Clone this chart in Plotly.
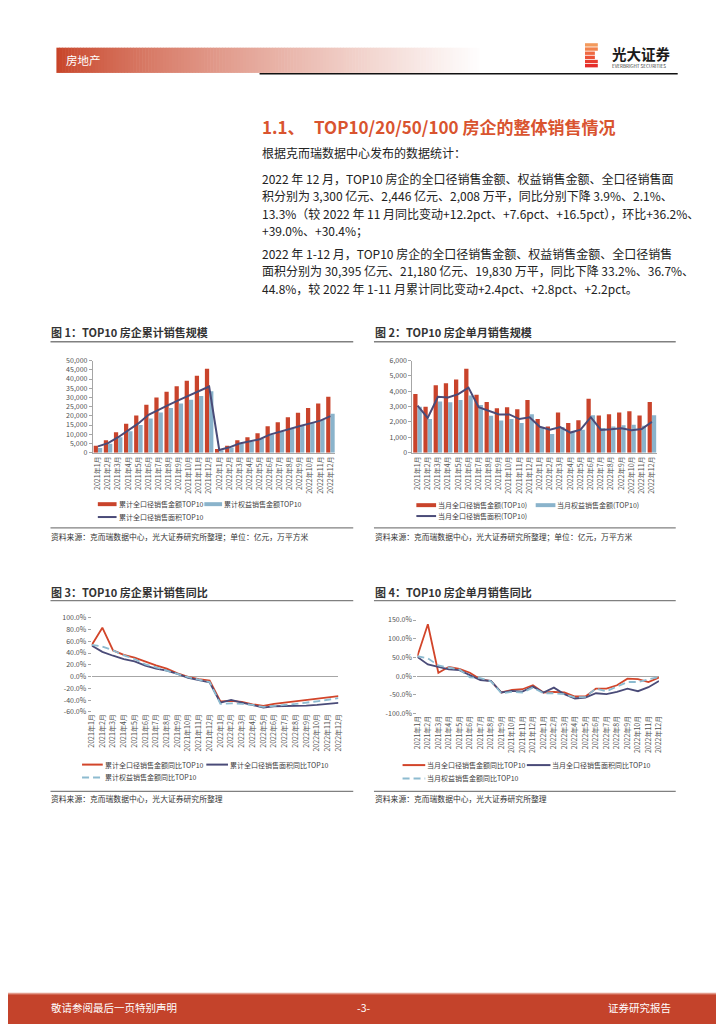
import plotly.graph_objects as go

W, H = 724, 1024
OFF = 8  # page body margin in the browser
FONT = "Noto Sans CJK SC, Noto Sans, sans-serif"

# ---------------- data ----------------
MONTHS = ["2021年1月", "2021年2月", "2021年3月", "2021年4月", "2021年5月", "2021年6月",
          "2021年7月", "2021年8月", "2021年9月", "2021年10月", "2021年11月", "2021年12月",
          "2022年1月", "2022年2月", "2022年3月", "2022年4月", "2022年5月", "2022年6月",
          "2022年7月", "2022年8月", "2022年9月", "2022年10月", "2022年11月", "2022年12月"]

# Fig 1: cumulative (亿元 / 万平方米)
CUM_GROSS = [3800, 6800, 11100, 15750, 20200, 26000, 29900, 33100, 36000, 39000, 41700, 45500,
             2000, 3700, 6800, 8400, 10600, 14300, 16500, 19200, 21700, 24300, 26700, 30395]
CUM_EQUITY = [2500, 4800, 8400, 11600, 15000, 18600, 21800, 24200, 26700, 28800, 30800, 33400,
              1300, 2750, 4800, 6100, 7700, 9800, 11500, 12900, 14700, 16300, 17700, 21180]
CUM_AREA = [3400, 5200, 8400, 12000, 15900, 20600, 23400, 26000, 28500, 31000, 33100, 35900,
            1500, 2900, 5000, 6300, 7300, 9800, 11500, 12900, 14500, 15900, 17400, 19830]

# Fig 2: monthly
MON_GROSS = [3815, 3000, 4400, 4520, 4760, 5460, 3770, 3300, 2890, 2960, 2830, 3430,
             2190, 1710, 2610, 1930, 2120, 3510, 2420, 2500, 2610, 2700, 2423, 3300]
MON_EQUITY = [3000, 2200, 3340, 3280, 3430, 3730, 3100, 2400, 2100, 2200, 1930, 2500,
              1630, 1220, 1670, 1350, 1500, 2440, 1610, 1710, 1780, 1820, 1760, 2446]
MON_AREA = [3060, 2270, 3640, 3600, 3810, 4240, 2960, 2720, 2490, 2490, 2190, 2310,
            1690, 1500, 1670, 1310, 1500, 2310, 1480, 1520, 1590, 1460, 1540, 2008]

# Fig 3: cumulative YoY (%)
YOY_CUM_GROSS = [53.3, 83.1, 44.4, 37.0, 32.0, 25.3, 19.1, 13.5, 5.6, -0.6, -4.5, -6.7,
                 -42.1, -41.5, -43.2, -47.2, -50.0, -46.6, -44.4, -42.7, -39.9, -37.6, -35.6, -33.2]
YOY_CUM_AREA = [52.8, 42.0, 35.4, 29.8, 25.8, 18.5, 13.5, 10.1, 4.5, -2.2, -6.2, -10.1,
                -44.4, -39.9, -44.4, -48.8, -52.8, -50.5, -50.5, -50.0, -49.4, -48.3, -47.0, -44.8]
YOY_CUM_EQUITY = [53.9, 51.1, 44.4, 36.0, 29.8, 20.8, 15.7, 10.7, 4.5, -1.1, -5.1, -9.5,
                  -46.6, -45.5, -46.6, -48.3, -51.6, -50.5, -48.3, -46.6, -44.9, -42.1, -39.5, -36.7]

# Fig 4: monthly YoY (%)
YOY_MON_GROSS = [53.0, 138.6, 8.8, 24.7, 19.4, 8.8, -8.8, -13.2, -44.0, -37.0, -35.3, -24.7,
                 -44.0, -42.4, -44.0, -54.7, -54.7, -33.6, -33.6, -24.7, -7.0, -8.0, -16.1, -3.9]
YOY_MON_AREA = [51.0, 31.0, 24.7, 17.7, 16.0, 3.5, -10.6, -13.2, -44.0, -39.7, -41.5, -28.3,
                -44.0, -31.0, -48.6, -60.0, -57.4, -46.0, -48.6, -42.4, -33.6, -40.6, -29.8, -13.3]
YOY_MON_EQUITY = [53.0, 47.7, 28.3, 23.0, 17.7, -3.5, -5.3, -14.0, -46.0, -42.4, -44.0, -31.0,
                  -46.0, -46.0, -48.6, -57.4, -55.6, -33.6, -40.6, -28.3, -16.0, -16.0, -9.7, -2.1]

Y1_TICKS = [0, 5000, 10000, 15000, 20000, 25000, 30000, 35000, 40000, 45000, 50000]
Y2_TICKS = [0, 1000, 2000, 3000, 4000, 5000, 6000]
Y3_TICKS = [-60, -40, -20, 0, 20, 40, 60, 80, 100]
Y4_TICKS = [-100, -50, 0, 50, 100, 150]

LEG1 = ["累计全口径销售金额TOP10", "累计权益销售金额TOP10", "累计全口径销售面积TOP10"]
LEG2 = ["当月全口径销售金额(TOP10)", "当月权益销售金额(TOP10)", "当月全口径销售面积(TOP10)"]
LEG3 = ["累计全口径销售金额同比TOP10", "累计全口径销售面积同比TOP10", "累计权益销售金额同比TOP10"]
LEG4 = ["当月全口径销售金额同比TOP10", "当月全口径销售面积同比TOP10", "当月权益销售金额同比TOP10"]

# ---------------- style ----------------
RED = "#C9432B"
BLUE = "#8AB3CB"
PURPLE = "#4A4B78"
LRED = "#D2452A"
LBLUE = "#8DBBD0"
AX = "#A6A6A6"
TK = "#505050"
DASH = "7px,4px"


def px(x):
    return (x - OFF) / W


def py(y):
    return 1 - (y - OFF) / H


annotations = []
shapes = []


def text(x, y, s, size, color="#222222", anchor="left", bold=False):
    if bold:
        s = f"<b>{s}</b>"
    annotations.append(dict(x=px(x), y=py(y), xref="paper", yref="paper", text=s,
                            showarrow=False, xanchor=anchor, yanchor="middle",
                            borderpad=0,
                            font=dict(family=FONT, size=size, color=color)))


def rect(x0, y0, x1, y1, color):
    shapes.append(dict(type="rect", xref="paper", yref="paper", x0=px(x0), x1=px(x1),
                       y0=py(y1), y1=py(y0), fillcolor=color, line=dict(width=0),
                       layer="above"))


def hline(x0, x1, y, color, width, dash="solid"):
    shapes.append(dict(type="line", xref="paper", yref="paper", x0=px(x0), x1=px(x1),
                       y0=py(y), y1=py(y), line=dict(color=color, width=width, dash=dash),
                       layer="above"))


# ---------------- header ----------------
x = 51.0
x_end = 480.0
while x < x_end:
    t = (x - 51.0) / (x_end - 51.0)
    t2 = t ** 0.8
    r = int(200 + (255 - 200) * t2)
    g = int(68 + (255 - 68) * t2)
    b = int(40 + (255 - 40) * t2)
    rect(x, 42, min(x + 3.6, x_end), 67.5, f"rgb({r},{g},{b})")
    x += 3
text(60, 54.5, "房地产", 11.5, "#FFFFFF")
hline(257, 681, 68.3, "#111111", 1.5)

# logo icon (stacked stripes)
stripe_cols = ["#F39A5C", "#F2834D", "#EF6A42", "#EC5237", "#E83D2F", "#E52C2A"]
stripe_w = [13, 13, 10, 10, 13, 13]
for i, (c, w) in enumerate(zip(stripe_cols, stripe_w)):
    y0 = 37.5 + i * 4.2
    rect(587, y0, 587 + w, y0 + 3.4, c)
text(613, 47.5, "光大证券", 14.5, "#1A1A1A", bold=True)
text(613, 60.5, "EVERBRIGHT SECURITIES", 4.6, "#333333")

# ---------------- body text ----------------
TITLE_COL = "#D9542F"
text(258, 122, "1.1、", 17, TITLE_COL, bold=True)
text(311, 122, "TOP10/20/50/100 房企的整体销售情况", 17, TITLE_COL, bold=True)
BODY = [
    (148, "根据克而瑞数据中心发布的数据统计："),
    (174, "2022 年 12 月，TOP10 房企的全口径销售金额、权益销售金额、全口径销售面"),
    (191.5, "积分别为 3,300 亿元、2,446 亿元、2,008 万平，同比分别下降 3.9%、2.1%、"),
    (209, "13.3%（较 2022 年 11 月同比变动+12.2pct、+7.6pct、+16.5pct），环比+36.2%、"),
    (226.5, "+39.0%、+30.4%；"),
    (250, "2022 年 1-12 月，TOP10 房企的全口径销售金额、权益销售金额、全口径销售"),
    (267.5, "面积分别为 30,395 亿元、21,180 亿元、19,830 万平，同比下降 33.2%、36.7%、"),
    (285, "44.8%，较 2022 年 1-11 月累计同比变动+2.4pct、+2.8pct、+2.2pct。"),
]
for yy, s in BODY:
    text(258, yy, s, 12, "#222222")

# ---------------- chart frames ----------------
LINE_GRAY = "#808080"
for (x0, x1) in [(45, 352), (373, 679)]:
    hline(x0, x1, 339, LINE_GRAY, 1.3)
    hline(x0, x1, 527, LINE_GRAY, 1.3)
    hline(x0, x1, 600.5, LINE_GRAY, 1.3)
    hline(x0, x1, 793, LINE_GRAY, 1.3)

text(45, 329, "图 1：TOP10 房企累计销售规模", 11, "#333333", bold=True)
text(373, 329, "图 2：TOP10 房企单月销售规模", 11, "#333333", bold=True)
text(45, 592, "图 3：TOP10 房企累计销售同比", 11, "#333333", bold=True)
text(373, 592, "图 4：TOP10 房企单月销售同比", 11, "#333333", bold=True)

SRC = "#333333"
text(45, 535.5, "资料来源：克而瑞数据中心，光大证券研究所整理；单位：亿元，万平方米", 7.8, SRC)
text(373, 535.5, "资料来源：克而瑞数据中心，光大证券研究所整理；单位：亿元，万平方米", 7.8, SRC)
text(45, 800.5, "资料来源：克而瑞数据中心，光大证券研究所整理", 7.8, SRC)
text(373, 800.5, "资料来源：克而瑞数据中心，光大证券研究所整理", 7.8, SRC)

# ---------------- legends (manual) ----------------
LEGF = 7
LEGC = "#404040"
# chart 1
rect(93, 501, 112, 505, RED)
text(113, 503, LEG1[0], LEGF, LEGC)
rect(201, 501, 219, 505, BLUE)
text(220, 503, LEG1[1], LEGF, LEGC)
hline(93, 112, 516, PURPLE, 2)
text(113, 516, LEG1[2], LEGF, LEGC)
# chart 2
rect(416, 502, 436, 506, RED)
text(437, 504, LEG2[0], LEGF, LEGC)
rect(537, 502, 557, 506, BLUE)
text(558, 504, LEG2[1], LEGF, LEGC)
hline(416, 436, 515, PURPLE, 2)
text(437, 515, LEG2[2], LEGF, LEGC)
# chart 3
hline(77, 98, 766, LRED, 2)
text(99, 766, LEG3[0], LEGF, LEGC)
hline(203, 225, 766, PURPLE, 2)
text(226, 766, LEG3[1], LEGF, LEGC)
hline(77, 98, 779, LBLUE, 2, dash=DASH)
text(99, 779, LEG3[2], LEGF, LEGC)
# chart 4
hline(402, 425, 766.5, LRED, 2)
text(426, 766.5, LEG4[0], LEGF, LEGC)
hline(528, 552, 766.5, PURPLE, 2)
text(553, 766.5, LEG4[1], LEGF, LEGC)
hline(402, 425, 780, LBLUE, 2, dash=DASH)
text(426, 780, LEG4[2], LEGF, LEGC)

# ---------------- footer ----------------
rect(0, 996.5, 740, 998.2, "#E39A8A")
rect(0, 998, 740, 1040, "#C4432B")
text(45, 1011.5, "敬请参阅最后一页特别声明", 10.5, "#FFFFFF")
text(362, 1011.5, "-3-", 10.5, "#FFFFFF", anchor="center")
text(675, 1011.5, "证券研究报告", 10.5, "#FFFFFF", anchor="right")

# ---------------- traces ----------------
fig = go.Figure()
# chart 1
fig.add_trace(go.Bar(x=MONTHS, y=CUM_GROSS, marker=dict(color=RED, line=dict(width=0)),
                     xaxis="x", yaxis="y", showlegend=False, offsetgroup="a"))
fig.add_trace(go.Bar(x=MONTHS, y=CUM_EQUITY, marker=dict(color=BLUE, line=dict(width=0)),
                     xaxis="x", yaxis="y", showlegend=False, offsetgroup="b"))
fig.add_trace(go.Scatter(x=MONTHS, y=CUM_AREA, mode="lines", line=dict(color=PURPLE, width=2),
                         xaxis="x", yaxis="y", showlegend=False))
# chart 2
fig.add_trace(go.Bar(x=MONTHS, y=MON_GROSS, marker=dict(color=RED, line=dict(width=0)),
                     xaxis="x2", yaxis="y2", showlegend=False, offsetgroup="a"))
fig.add_trace(go.Bar(x=MONTHS, y=MON_EQUITY, marker=dict(color=BLUE, line=dict(width=0)),
                     xaxis="x2", yaxis="y2", showlegend=False, offsetgroup="b"))
fig.add_trace(go.Scatter(x=MONTHS, y=MON_AREA, mode="lines", line=dict(color=PURPLE, width=2),
                         xaxis="x2", yaxis="y2", showlegend=False))
# chart 3
fig.add_trace(go.Scatter(x=MONTHS, y=YOY_CUM_GROSS, mode="lines", line=dict(color=LRED, width=1.8),
                         xaxis="x3", yaxis="y3", showlegend=False))
fig.add_trace(go.Scatter(x=MONTHS, y=YOY_CUM_AREA, mode="lines", line=dict(color=PURPLE, width=1.8),
                         xaxis="x3", yaxis="y3", showlegend=False))
fig.add_trace(go.Scatter(x=MONTHS, y=YOY_CUM_EQUITY, mode="lines",
                         line=dict(color=LBLUE, width=1.8, dash=DASH),
                         xaxis="x3", yaxis="y3", showlegend=False))
# chart 4
fig.add_trace(go.Scatter(x=MONTHS, y=YOY_MON_GROSS, mode="lines", line=dict(color=LRED, width=1.8),
                         xaxis="x4", yaxis="y4", showlegend=False))
fig.add_trace(go.Scatter(x=MONTHS, y=YOY_MON_AREA, mode="lines", line=dict(color=PURPLE, width=1.8),
                         xaxis="x4", yaxis="y4", showlegend=False))
fig.add_trace(go.Scatter(x=MONTHS, y=YOY_MON_EQUITY, mode="lines",
                         line=dict(color=LBLUE, width=1.8, dash=DASH),
                         xaxis="x4", yaxis="y4", showlegend=False))

tickfont = dict(family=FONT, size=7, color=TK)


def xcat(domain, anchor, showline):
    return dict(domain=domain, anchor=anchor, type="category", tickmode="array",
                tickvals=MONTHS, ticktext=MONTHS, tickangle=-90, tickfont=tickfont,
                showline=showline, linecolor=AX, linewidth=1, ticks="", showgrid=False,
                zeroline=False, fixedrange=True)


def yval(domain, anchor, rng, ticks, labels, showline, zeroline):
    return dict(domain=domain, anchor=anchor, range=rng, tickmode="array", tickvals=ticks,
                ticktext=labels, tickfont=tickfont, showline=showline, linecolor=AX,
                linewidth=1, ticks="outside", ticklen=3, tickcolor=AX, showgrid=False,
                zeroline=zeroline, zerolinecolor=AX, zerolinewidth=1, fixedrange=True)


fig.update_layout(
    width=W, height=H, autosize=False,
    margin=dict(l=0, r=0, t=0, b=0),
    paper_bgcolor="white", plot_bgcolor="rgba(0,0,0,0)",
    barmode="group", bargap=0.16, bargroupgap=0,
    font=dict(family=FONT),
    xaxis=xcat([px(88), px(334)], "y", True),
    yaxis=yval([py(451), py(358)], "x", [0, 50000], Y1_TICKS,
               [f"{v:,}" for v in Y1_TICKS], True, False),
    xaxis2=xcat([px(412), px(660)], "y2", True),
    yaxis2=yval([py(451), py(358)], "x2", [0, 6000], Y2_TICKS,
                [f"{v:,}" for v in Y2_TICKS], True, False),
    xaxis3=xcat([px(86.7), px(337)], "y3", False),
    yaxis3=yval([py(712.7), py(617.7)], "x3", [-60, 100], Y3_TICKS,
                [f"{v:.1f}%" for v in Y3_TICKS], False, True),
    xaxis4=xcat([px(417), px(662)], "y4", False),
    yaxis4=yval([py(714.3), py(620)], "x4", [-100, 150], Y4_TICKS,
                [f"{v:.1f}%" for v in Y4_TICKS], False, True),
    annotations=annotations,
    shapes=shapes,
)

fig.write_html("out.html")
